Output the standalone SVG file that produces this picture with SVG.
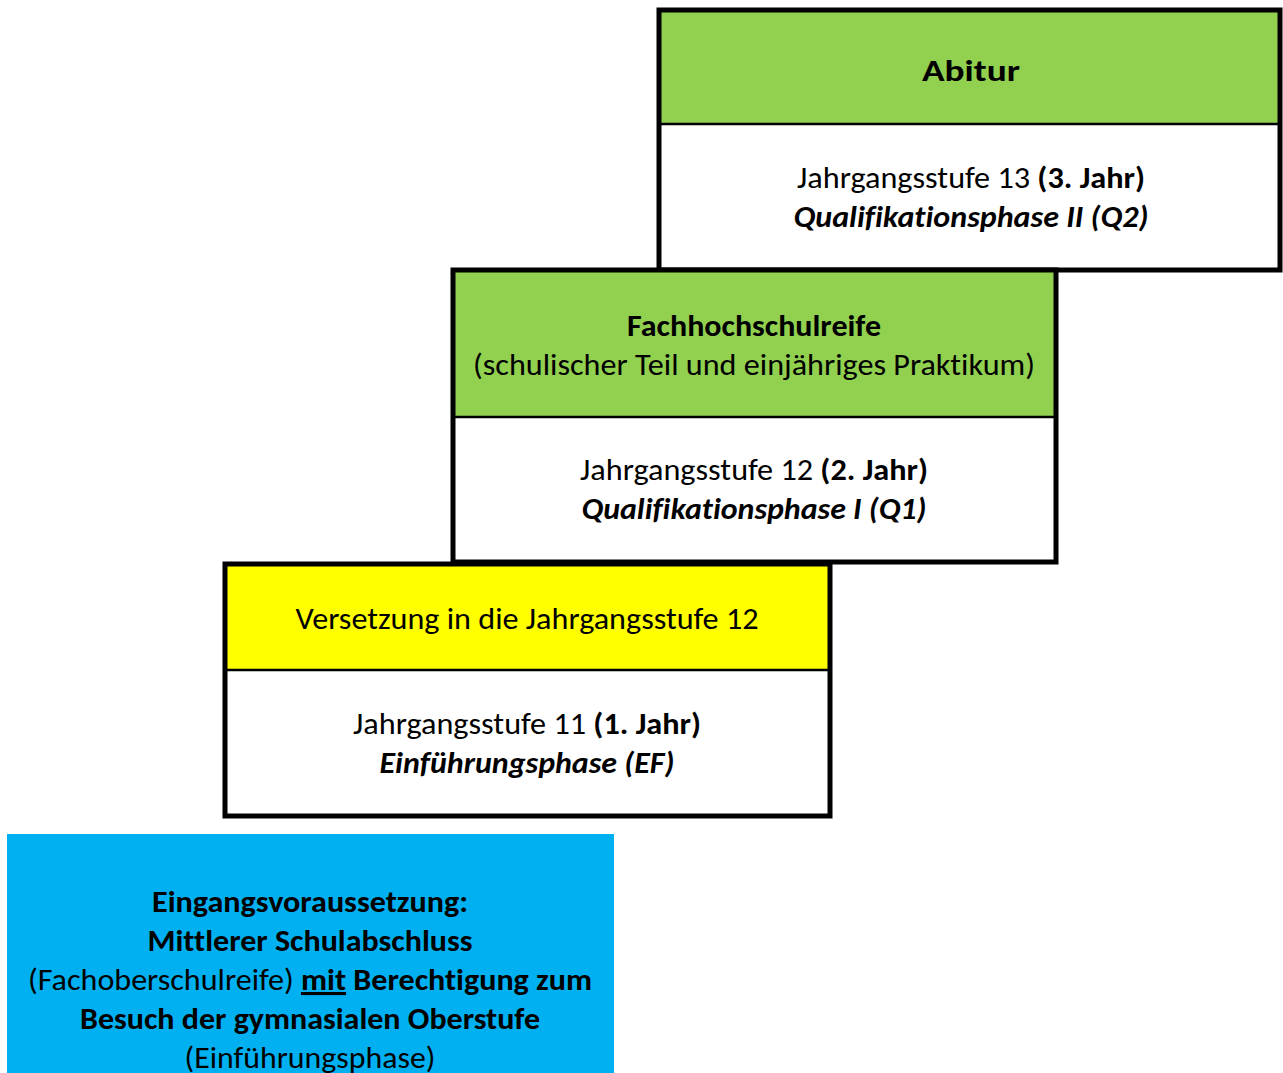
<svg xmlns="http://www.w3.org/2000/svg" width="1283" height="1073" viewBox="0 0 1283 1073">
<style>
.frame{fill:none;stroke:#000;stroke-width:5}
.div{stroke:#000;stroke-width:2.5}
.green{fill:#92D050}
.yellow{fill:#FFFF00}
.blue{fill:#00B0F0}
.white{fill:#fff}
text{font-family:Carlito,Lato,"Open Sans",sans-serif;font-size:31px;fill:#000;text-anchor:middle;font-variant-ligatures:none}
.b{font-weight:bold}
.bi{font-weight:bold;font-style:italic}
.u{text-decoration:underline}
</style>
<rect width="1283" height="1073" fill="#fff"/>
<g id="abitur">
  <rect class="green" x="659" y="10" width="621" height="114"/>
  <rect class="white" x="659" y="124" width="621" height="146"/>
  <line class="div" x1="659" y1="124" x2="1280" y2="124"/>
  <rect class="frame" x="659" y="10" width="621" height="260"/>
  <text class="b" x="971" y="81" textLength="98" lengthAdjust="spacingAndGlyphs">Abitur</text>
  <text x="971" y="188" textLength="348" lengthAdjust="spacingAndGlyphs">Jahrgangsstufe 13 <tspan class="b">(3. Jahr)</tspan></text>
  <text class="bi" x="971" y="227" textLength="355" lengthAdjust="spacingAndGlyphs">Qualifikationsphase II (Q2)</text>
</g>
<g id="fachhochschulreife">
  <rect class="green" x="453" y="270" width="603" height="147"/>
  <rect class="white" x="453" y="417" width="603" height="145"/>
  <line class="div" x1="453" y1="417" x2="1056" y2="417"/>
  <rect class="frame" x="453" y="270" width="603" height="292"/>
  <text class="b" x="754" y="336" textLength="254" lengthAdjust="spacingAndGlyphs">Fachhochschulreife</text>
  <text x="754" y="375" textLength="562" lengthAdjust="spacingAndGlyphs">(schulischer Teil und einjähriges Praktikum)</text>
  <text x="754" y="480" textLength="348" lengthAdjust="spacingAndGlyphs">Jahrgangsstufe 12 <tspan class="b">(2. Jahr)</tspan></text>
  <text class="bi" x="754" y="519" textLength="345" lengthAdjust="spacingAndGlyphs">Qualifikationsphase I (Q1)</text>
</g>
<g id="versetzung">
  <rect class="yellow" x="225" y="564" width="605" height="106"/>
  <rect class="white" x="225" y="670" width="605" height="146"/>
  <line class="div" x1="225" y1="670" x2="830" y2="670"/>
  <rect class="frame" x="225" y="564" width="605" height="252"/>
  <text x="527" y="629" textLength="463" lengthAdjust="spacingAndGlyphs">Versetzung in die Jahrgangsstufe 12</text>
  <text x="527" y="734" textLength="348" lengthAdjust="spacingAndGlyphs">Jahrgangsstufe 11 <tspan class="b">(1. Jahr)</tspan></text>
  <text class="bi" x="527" y="773" textLength="295" lengthAdjust="spacingAndGlyphs">Einführungsphase (EF)</text>
</g>
<g id="eingang">
  <rect class="blue" x="7" y="834" width="607" height="245"/>
  <text class="b" x="310" y="912" textLength="316" lengthAdjust="spacingAndGlyphs">Eingangsvoraussetzung:</text>
  <text class="b" x="310" y="951" textLength="325" lengthAdjust="spacingAndGlyphs">Mittlerer Schulabschluss</text>
  <text x="310" y="990" textLength="564" lengthAdjust="spacingAndGlyphs">(Fachoberschulreife) <tspan class="b u">mit</tspan><tspan class="b"> Berechtigung zum</tspan></text>
  <text class="b" x="310" y="1029" textLength="460" lengthAdjust="spacingAndGlyphs">Besuch der gymnasialen Oberstufe</text>
  <text x="310" y="1068" textLength="251" lengthAdjust="spacingAndGlyphs">(Einführungsphase)</text>
</g>
</svg>
